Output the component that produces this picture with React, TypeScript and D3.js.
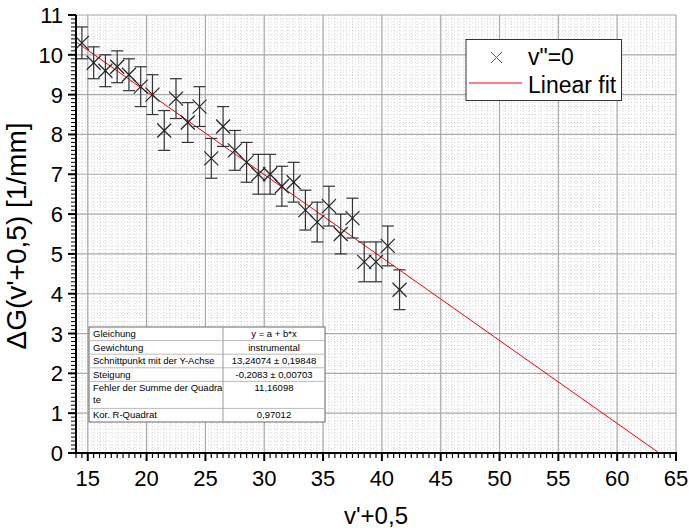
import * as d3 from 'd3'

// measured points: x = v'+0.5, y = dG [1/mm], err = y error
const xs = [14.5, 15.5, 16.5, 17.5, 18.5, 19.5, 20.5, 21.5, 22.5, 23.5, 24.5, 25.5, 26.5, 27.5,
  28.5, 29.5, 30.5, 31.5, 32.5, 33.5, 34.5, 35.5, 36.5, 37.5, 38.5, 39.5, 40.5, 41.5]
const ys = [10.3, 9.8, 9.6, 9.7, 9.5, 9.2, 9.0, 8.1, 8.9, 8.3, 8.7, 7.4, 8.2, 7.6,
  7.3, 7.0, 7.0, 6.7, 6.8, 6.1, 5.8, 6.2, 5.5, 5.9, 4.8, 4.8, 5.2, 4.1]
const errs = [0.4, 0.4, 0.4, 0.4, 0.4, 0.5, 0.5, 0.5, 0.5, 0.5, 0.5, 0.5, 0.5, 0.5,
  0.5, 0.5, 0.5, 0.5, 0.5, 0.5, 0.5, 0.5, 0.5, 0.5, 0.5, 0.5, 0.5, 0.5]

// linear fit y = a + b*x
const fitA = 13.24074
const fitB = -0.2083

const xTicks = [15, 20, 25, 30, 35, 40, 45, 50, 55, 60, 65]
const yTicks = [0, 1, 2, 3, 4, 5, 6, 7, 8, 9, 10, 11]

const legendLabels = ['v"=0', 'Linear fit']

const tableLeft = ['Gleichung', 'Gewichtung', 'Schnittpunkt mit der Y-Achse', 'Steigung',
  'Fehler der Summe der Quadra|te', 'Kor. R-Quadrat']
const tableRight = ['y = a + b*x', 'instrumental', '13,24074 ± 0,19848', '-0,2083 ± 0,00703',
  '11,16098', '0,97012']

const W = 689
const H = 531
const font = 'Arial, "Liberation Sans", sans-serif'

export default function App() {
  const x = d3.scaleLinear().domain([14, 65]).range([76, 676])
  const y = d3.scaleLinear().domain([0, 11]).range([453, 15])

  const xMinor = d3.range(14, 65.01, 0.5)
  const yMinor = d3.range(0, 11.001, 0.1)

  const points = xs.map((v, i) => ({ x: v, y: ys[i], e: errs[i] }))

  const xEnd = -fitA / fitB
  const fitLine = d3.line<number>()
    .x((d) => x(d))
    .y((d) => y(fitA + fitB * d))([14, xEnd])

  const [x0, x1] = x.range()
  const [y0, y1] = y.range()

  // table layout
  const tX = 89, tY = 327, tW = 236, tMid = 223
  const rowH = tableLeft.map((t) => (t.includes('|') ? 27 : 13.6))
  const rowY = rowH.map((_, i) => tY + d3.sum(rowH.slice(0, i)))
  const tH = d3.sum(rowH)

  const m = 7
  return (
    <svg width={W} height={H} style={{ position: 'absolute', left: 0, top: 0, background: '#fff' }}
      fontFamily={font}>
      <rect width={W} height={H} fill="#fff" />
      {/* minor grid */}
      {xMinor.map((v) => (
        <line key={'xm' + v} x1={x(v)} x2={x(v)} y1={y1} y2={y0} stroke="#d6d6d6"
          strokeWidth={1} strokeDasharray="1 2" />
      ))}
      {yMinor.map((v) => (
        <line key={'ym' + v} x1={x0} x2={x1} y1={y(v)} y2={y(v)} stroke="#d6d6d6"
          strokeWidth={1} strokeDasharray="1 2" />
      ))}
      {/* major grid */}
      {xTicks.map((v) => (
        <line key={'xg' + v} x1={x(v)} x2={x(v)} y1={y1} y2={y0} stroke="#ababab" strokeWidth={1.2} />
      ))}
      {yTicks.map((v) => (
        <line key={'yg' + v} x1={x0} x2={x1} y1={y(v)} y2={y(v)} stroke="#ababab" strokeWidth={1.2} />
      ))}

      {/* fit line */}
      <path d={fitLine ?? ''} fill="none" stroke="#ff0000" strokeWidth={1} />

      {/* error bars and markers */}
      {points.map((p, i) => {
        const cx = x(p.x), cy = y(p.y)
        const top = y(p.y + p.e), bot = y(p.y - p.e)
        return (
          <g key={i} stroke="#333" strokeWidth={1.2}>
            <line x1={cx} x2={cx} y1={top} y2={bot} />
            <line x1={cx - 6} x2={cx + 6} y1={top} y2={top} />
            <line x1={cx - 6} x2={cx + 6} y1={bot} y2={bot} />
            <line x1={cx - m} x2={cx + m} y1={cy - m} y2={cy + m} stroke="#222" />
            <line x1={cx - m} x2={cx + m} y1={cy + m} y2={cy - m} stroke="#222" />
          </g>
        )
      })}

      {/* axes */}
      <line x1={x0} x2={x1 + 1} y1={y0} y2={y0} stroke="#000" strokeWidth={2} />
      <line x1={x0} x2={x0} y1={y1} y2={y0} stroke="#000" strokeWidth={2} />
      {xMinor.map((v) => (
        <line key={'xt' + v} x1={x(v)} x2={x(v)} y1={y0} y2={y0 + (v % 5 === 0 ? 8 : 5)}
          stroke="#000" strokeWidth={v % 5 === 0 ? 2 : 1.2} />
      ))}
      {yMinor.map((v) => {
        const major = Math.abs(v - Math.round(v)) < 1e-6
        return (
          <line key={'yt' + v} x1={x0} x2={x0 - (major ? 8 : 5)} y1={y(v)} y2={y(v)}
            stroke="#000" strokeWidth={major ? 2 : 1} />
        )
      })}
      {xTicks.map((v) => (
        <text key={'xl' + v} x={x(v)} y={y0 + 33} textAnchor="middle" fontSize={22}>{v}</text>
      ))}
      {yTicks.map((v) => (
        <text key={'yl' + v} x={x0 - 13} y={y(v) + 8} textAnchor="end" fontSize={22}>{v}</text>
      ))}

      {/* axis titles */}
      <text x={(x0 + x1) / 2} y={524} textAnchor="middle" fontSize={24}>v'+0,5</text>
      <text transform={`translate(26,${(y0 + y1) / 2 + 2}) rotate(-90)`} textAnchor="middle" fontSize={28}>
        ΔG(v'+0,5) [1/mm]
      </text>

      {/* legend */}
      <g>
        <rect x={466} y={39.5} width={155.5} height={61} fill="#fff" stroke="#333" strokeWidth={1} />
        <g stroke="#555" strokeWidth={1}>
          <line x1={491} x2={502} y1={52} y2={63} />
          <line x1={491} x2={502} y1={63} y2={52} />
        </g>
        <text x={528} y={65} fontSize={23}>{legendLabels[0]}</text>
        <line x1={469} x2={522} y1={83} y2={83} stroke="#ff0000" strokeWidth={1} />
        <text x={528} y={93} fontSize={23}>{legendLabels[1]}</text>
      </g>

      {/* fit result table */}
      <g fontSize={9.5}>
        <rect x={tX} y={tY} width={tW} height={tH} fill="#fff" stroke="#666" strokeWidth={1} />
        {rowY.slice(1).map((ry, i) => (
          <line key={'tr' + i} x1={tX} x2={tX + tW} y1={ry} y2={ry} stroke="#bbb" strokeWidth={1} />
        ))}
        <line x1={tMid} x2={tMid} y1={tY} y2={tY + tH} stroke="#999" strokeWidth={1} />
        {tableLeft.map((t, i) => (
          <text key={'tl' + i} x={tX + 4} y={rowY[i] + 10}>
            {t.split('|').map((s, j) => (
              <tspan key={j} x={tX + 4} dy={j === 0 ? 0 : 12}>{s}</tspan>
            ))}
          </text>
        ))}
        {tableRight.map((t, i) => (
          <text key={'tv' + i} x={(tMid + tX + tW) / 2} y={rowY[i] + 10} textAnchor="middle">{t}</text>
        ))}
      </g>
    </svg>
  )
}
